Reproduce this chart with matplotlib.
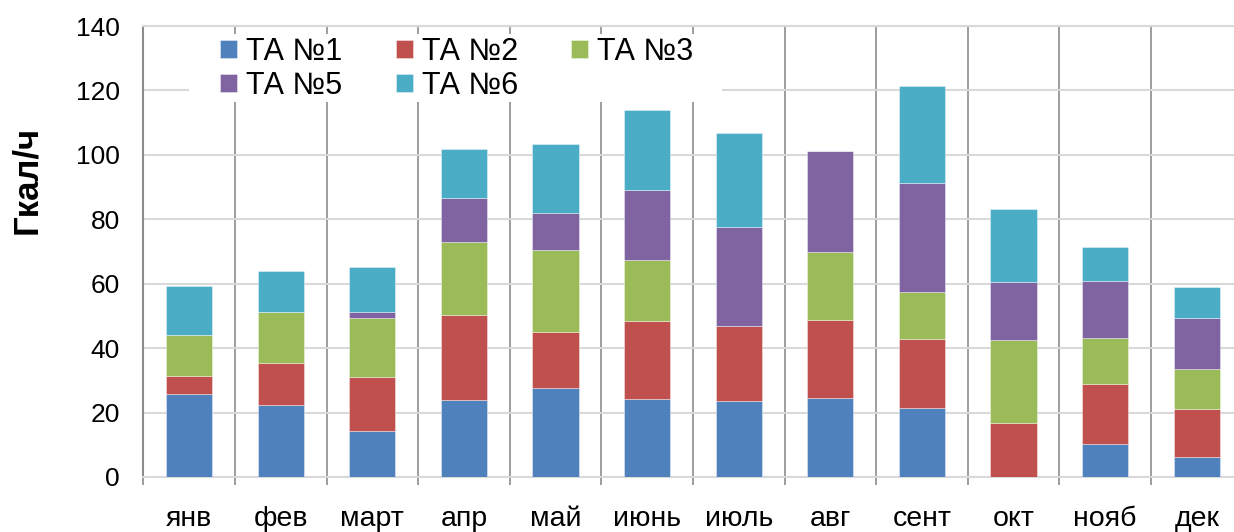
import matplotlib
matplotlib.use("Agg")
import matplotlib.pyplot as plt
from matplotlib.patches import Rectangle
import numpy as np

plt.rcParams['font.family'] = ['Liberation Sans', 'DejaVu Sans']

months = ['янв', 'фев', 'март', 'апр', 'май', 'июнь', 'июль', 'авг', 'сент', 'окт', 'нояб', 'дек']
series_names = ['ТА №1', 'ТА №2', 'ТА №3', 'ТА №5', 'ТА №6']
ta1 = [25.7, 22.3, 14.4, 23.9, 27.7, 24.3, 23.7, 24.5, 21.4, 0.0, 10.1, 6.1]
ta2 = [5.7, 13.1, 16.6, 26.4, 17.4, 24.1, 23.3, 24.3, 21.3, 16.8, 18.8, 15.1]
ta3 = [12.6, 15.7, 18.3, 22.7, 25.5, 18.9, 0.0, 21.2, 14.8, 25.7, 14.2, 12.4]
ta5 = [0.0, 0.0, 2.0, 13.6, 11.2, 21.7, 30.6, 31.3, 33.7, 18.0, 17.6, 15.8]
ta6 = [15.3, 12.8, 14.0, 15.1, 21.7, 24.9, 29.3, 0.0, 30.2, 22.6, 10.8, 9.7]
colors = ['#4F81BD', '#C0504D', '#9BBB59', '#8064A2', '#4BACC6']

W, H = 1234, 532
fig = plt.figure(figsize=(W / 100, H / 100), dpi=100)
ax = fig.add_axes([143.3 / W, 55 / H, 1099.2 / W, 451 / H])

x = np.arange(len(months))
bottom = np.zeros(len(months))
handles = []
for name, vals, col in zip(series_names, [ta1, ta2, ta3, ta5, ta6], colors):
    vals = np.array(vals)
    bars = ax.bar(x, vals, width=0.506, bottom=bottom, color=col,
                  edgecolor=(1, 1, 1, 0.45), linewidth=0.6, label=name, zorder=3)
    handles.append(bars)
    bottom += vals

ax.set_xlim(-0.5, 11.5)
ax.set_ylim(0, 140)
ax.set_yticks(np.arange(0, 141, 20))
ax.set_xticks(x)
ax.set_xticklabels(months)
ax.set_xticks(np.arange(-0.5, 12, 1), minor=True)

ax.tick_params(axis='y', length=0, labelsize=19, pad=17)
ax.tick_params(axis='x', which='major', length=0, labelsize=20.5, pad=21)
ax.tick_params(axis='x', which='minor', length=6, width=1.2, color='#8c8c8c')

ax.set_axisbelow(True)
ax.grid(axis='y', which='major', color='#d9d9d9', linewidth=1.5)
ax.grid(axis='x', which='minor', color='#8c8c8c', linewidth=1.2)

ax.spines['right'].set_visible(False)
ax.spines['top'].set_color('#d9d9d9')
ax.spines['top'].set_linewidth(1.5)
ax.spines['bottom'].set_color('#d9d9d9')
ax.spines['bottom'].set_linewidth(1.5)
ax.spines['left'].set_color('#8c8c8c')
ax.spines['left'].set_linewidth(1.5)

# white backing behind the legend
ax.add_patch(Rectangle((189 / W, 1 - 102 / H), (722 - 189) / W, (102 - 34) / H,
                       transform=fig.transFigure, facecolor='white',
                       edgecolor='none', zorder=4, clip_on=False))

order = [0, 3, 1, 4, 2]
leg = ax.legend([handles[i] for i in order], [series_names[i] for i in order],
                ncol=3, loc='upper left', bbox_to_anchor=(220 / W, 1 - 37 / H),
                bbox_transform=fig.transFigure, frameon=False, fontsize=22,
                handlelength=0.55, handleheight=0.55, handletextpad=0.3,
                columnspacing=1.75, labelspacing=0.12, borderpad=0, borderaxespad=0)
leg.set_zorder(5)

fig.text(26.5 / W, 1 - 180 / H, 'Гкал/ч', rotation=90, ha='center', va='center',
         fontsize=25, fontweight='bold')

fig.savefig('out.png', dpi=100)
